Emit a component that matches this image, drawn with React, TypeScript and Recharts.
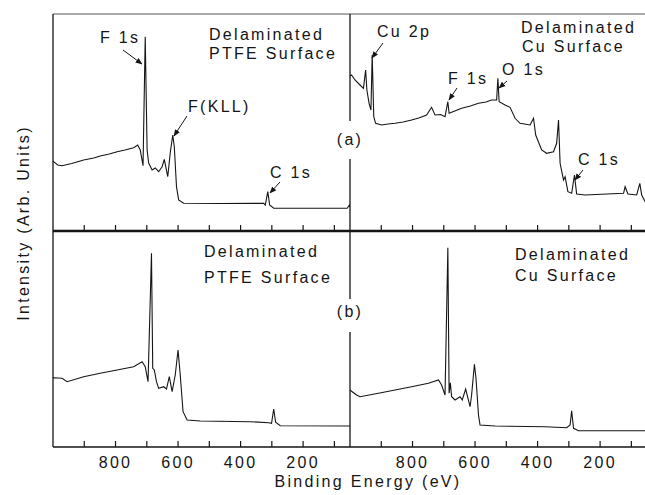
import { LineChart, Line, XAxis, YAxis } from 'recharts';

// XPS survey spectra, [binding energy (eV), intensity (arb.)]
const ptfeSideA: [number, number][] = [
  [1000, 70], [998, 69.3], [985, 66], [971, 65.3], [940, 67.5], [902, 71], [870, 73], [849, 75],
  [820, 77], [795, 79.3], [770, 81], [742, 83.3], [729, 86], [721, 81], [712, 65.3], [705, 194.3],
  [699, 81], [694, 68], [683, 61], [673, 63], [662, 59.3], [651, 64.3], [644, 71.7], [633, 54.3],
  [625, 78], [617, 96], [612, 84.3], [605, 44.3], [598, 31], [582, 27.7], [464, 27.5], [326, 27.7],
  [321, 26], [313, 39.3], [307, 26], [294, 22.7], [59, 22.7], [52, 26], [50, 24],
];

const cuSideA: [number, number][] = [
  [1000, 155], [995, 156], [984, 151], [968, 146], [957, 142.7], [950, 161], [946, 141], [939, 127.7],
  [933, 121], [929, 176], [924, 114.3], [918, 107.7], [899, 106], [878, 107], [856, 107.7], [830, 109],
  [803, 111], [780, 113], [755, 116], [739, 123.7], [728, 116], [710, 116.5], [696, 114.3], [687, 129.3],
  [683, 117.7], [665, 120], [643, 122.7], [615, 125], [589, 127.7], [565, 129], [547, 131], [531, 131],
  [527, 152.7], [523, 129.3], [504, 126], [488, 123.7], [472, 112.7], [456, 107.7], [424, 106],
  [413, 112.7], [406, 96], [387, 81], [371, 77.7], [349, 79.3], [339, 87.7], [333, 111], [328, 67.7],
  [317, 51], [312, 54.3], [303, 39.3], [291, 37.7], [282, 56], [275, 37], [248, 36], [125, 37.7],
  [120, 44.3], [111, 37], [83, 36], [73, 47.7], [67, 36], [56, 29.3], [50, 28],
];

const ptfeSideB: [number, number][] = [
  [1000, 69], [998, 69.3], [971, 68.7], [955, 65.3], [902, 70.3], [849, 73.7], [795, 77], [742, 80.3],
  [715, 85.3], [705, 80.3], [696, 65.3], [685, 193.7], [681, 78.7], [676, 77], [669, 65.3], [662, 58.7],
  [646, 60.3], [637, 58], [628, 70.3], [619, 55.3], [609, 72], [600, 97], [593, 72], [584, 35.3],
  [571, 27], [529, 26], [369, 25.3], [310, 24.3], [301, 23.7], [294, 38], [288, 24.7], [273, 21.3],
  [50, 21],
];

const cuSideB: [number, number][] = [
  [1000, 57], [993, 55.3], [979, 52], [968, 50.3], [909, 53.7], [856, 57], [803, 60.3], [749, 63.7],
  [717, 67], [707, 62], [696, 52], [687, 199.3], [683, 53.7], [679, 64.3], [675, 50.3], [664, 47],
  [648, 50.3], [641, 47], [630, 58], [616, 40.3], [611, 52], [602, 82.7], [597, 68.7], [589, 32],
  [584, 22], [536, 21], [376, 20.3], [307, 19.3], [296, 22], [291, 36.3], [285, 18.7], [269, 16.3],
  [50, 16.3],
];

const energyTicks = [900, 800, 700, 600, 500, 400, 300, 200, 100];
const labeledTicks = [800, 600, 400, 200];

const FONT = '"Liberation Sans", Arial, sans-serif';
const INK = '#151515';

const toRows = (pts: [number, number][]) => pts.map(([e, i]) => ({ e, i }));

function EnergyTick(props: any) {
  const { x, y, payload, showLabel } = props;
  return (
    <g>
      <line x1={x} x2={x} y1={y} y2={y - 6} stroke={INK} strokeWidth={1.2} />
      {showLabel && labeledTicks.includes(payload.value) && (
        <text
          x={x}
          y={y + 21}
          textAnchor="middle"
          fill={INK}
          style={{ fontFamily: FONT, fontSize: 16, letterSpacing: '2.3px' }}
        >
          {payload.value}
        </text>
      )}
    </g>
  );
}

interface PanelProps {
  data: [number, number][];
  top: boolean;
  left: boolean;
}

function Panel({ data, top, left }: PanelProps) {
  const height = top ? 260 : 290;
  // axes take 1px each, margins are set so the plot sits at x 53|350, y 14|231|447
  const margin = {
    top: top ? 13 : 31,
    bottom: top ? 28 : 42,
    left: left ? 52 : 9,
    right: left ? 0 : 3,
  };
  const yMax = top ? 217 : 216;
  return (
    <div style={{ position: 'absolute', left: left ? 0 : 340, top: top ? 0 : 200 }}>
      <LineChart width={left ? 350 : 310} height={height} data={toRows(data)} margin={margin}>
        <XAxis
          dataKey="e"
          type="number"
          domain={[50, 1000]}
          reversed
          ticks={energyTicks}
          interval={0}
          height={1}
          tickSize={0}
          tickMargin={0}
          tickLine={false}
          axisLine={{ stroke: INK, strokeWidth: top ? 2.6 : 1.5 }}
          tick={(p: any) => <EnergyTick {...p} showLabel={!top} />}
        />
        {top && (
          <XAxis
            xAxisId="frame"
            orientation="top"
            type="number"
            domain={[50, 1000]}
            reversed
            height={1}
            tick={false}
            tickLine={false}
            axisLine={{ stroke: '#555', strokeWidth: 1 }}
          />
        )}
        <YAxis
          type="number"
          domain={[0, yMax]}
          width={1}
          tick={false}
          tickLine={false}
          axisLine={{ stroke: INK, strokeWidth: 1.3 }}
        />
        <Line
          type="linear"
          dataKey="i"
          stroke={INK}
          strokeWidth={1.1}
          dot={false}
          isAnimationActive={false}
        />
      </LineChart>
    </div>
  );
}

const textStyle = { fontFamily: FONT, fontSize: 16, letterSpacing: '2.3px' };

function Label({ x, y, children, anchor = 'start' }: any) {
  return (
    <text x={x} y={y} fill={INK} textAnchor={anchor} style={textStyle}>
      {children}
    </text>
  );
}

function Arrow({ x1, y1, x2, y2 }: any) {
  return <line x1={x1} y1={y1} x2={x2} y2={y2} stroke={INK} strokeWidth={1} markerEnd="url(#head)" />;
}

export default function App() {
  return (
    <div style={{ position: 'relative', width: 645, height: 495, overflow: 'hidden', background: '#fff' }}>
      <style>{'body{margin:0;overflow:hidden}'}</style>
      <Panel data={ptfeSideA} top left />
      <Panel data={cuSideA} top left={false} />
      <Panel data={ptfeSideB} top={false} left />
      <Panel data={cuSideB} top={false} left={false} />

      <svg width={645} height={495} style={{ position: 'absolute', left: 0, top: 0, pointerEvents: 'none' }}>
        <defs>
          <marker id="head" viewBox="0 0 10 10" refX="9" refY="5" markerWidth="7" markerHeight="7" orient="auto">
            <path d="M0,1 L10,5 L0,9 z" fill={INK} />
          </marker>
        </defs>

        {/* gaps in the divider for the panel letters */}
        <rect x={337} y={121} width={26} height={38} fill="#fff" />
        <rect x={337} y={299} width={26} height={33} fill="#fff" />
        <Label x={350} y={145} anchor="middle">(a)</Label>
        <Label x={350} y={317} anchor="middle">(b)</Label>

        {/* panel (a) left */}
        <Label x={100} y={43}>F 1s</Label>
        <Arrow x1={123} y1={50} x2={142} y2={64} />
        <Label x={209} y={40}>Delaminated</Label>
        <Label x={209} y={59}>PTFE Surface</Label>
        <Label x={188} y={112}>F(KLL)</Label>
        <Arrow x1={187} y1={116} x2={174} y2={136} />
        <Label x={270} y={178}>C 1s</Label>
        <Arrow x1={280} y1={182} x2={270} y2={193} />

        {/* panel (a) right */}
        <Label x={377} y={37}>Cu 2p</Label>
        <Arrow x1={383} y1={43} x2={372} y2={58} />
        <Label x={521} y={33}>Delaminated</Label>
        <Label x={522} y={52}>Cu Surface</Label>
        <Label x={448} y={84}>F 1s</Label>
        <Arrow x1={457} y1={88} x2={449} y2={100} />
        <Label x={502} y={75}>O 1s</Label>
        <Arrow x1={507} y1={81} x2={499} y2={88} />
        <Label x={578} y={165}>C 1s</Label>
        <Arrow x1={583} y1={170} x2={575} y2={180} />

        {/* panel (b) */}
        <Label x={204} y={257}>Delaminated</Label>
        <Label x={204} y={283}>PTFE Surface</Label>
        <Label x={515} y={260}>Delaminated</Label>
        <Label x={515} y={281}>Cu Surface</Label>

        {/* axis titles */}
        <Label x={368} y={487} anchor="middle">Binding Energy (eV)</Label>
        <text
          x={0}
          y={0}
          transform="translate(29,223) rotate(-90)"
          textAnchor="middle"
          fill={INK}
          style={textStyle}
        >
          Intensity (Arb. Units)
        </text>
      </svg>
    </div>
  );
}
